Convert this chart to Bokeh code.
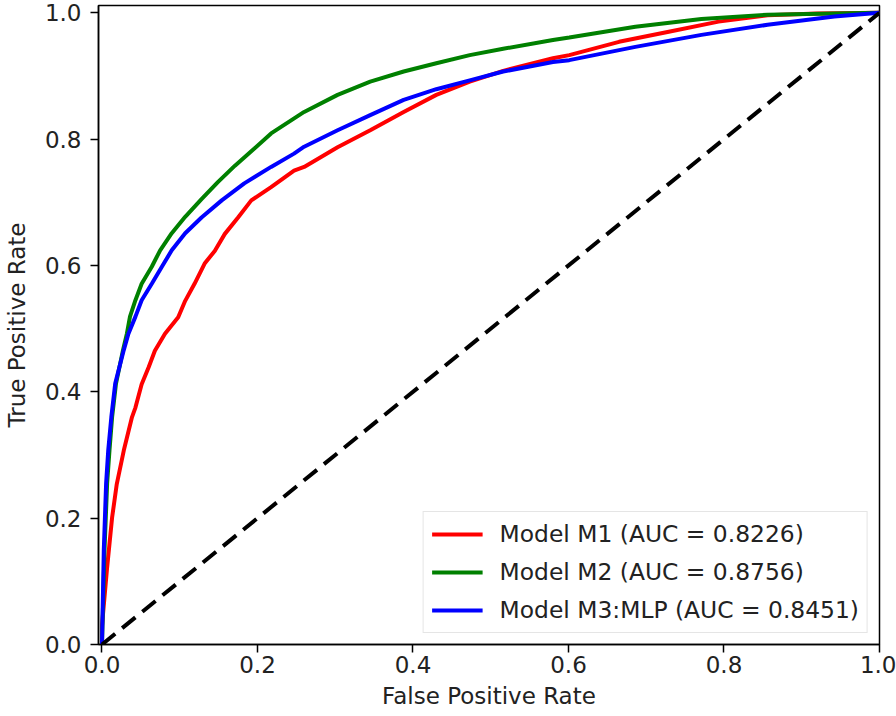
from bokeh.plotting import figure
from bokeh.models import Range1d, FixedTicker, NumeralTickFormatter, Legend, LegendItem
from bokeh.embed import file_html
from bokeh.resources import INLINE

# ---- data ----
fpr_m1 = [0.0, 0.0, 0.0066, 0.013, 0.019, 0.028, 0.0386, 0.043, 0.051, 0.060, 0.068, 0.081, 0.098, 0.107,
          0.119, 0.132, 0.145, 0.158, 0.175, 0.192, 0.2175, 0.247, 0.260, 0.303, 0.345, 0.388, 0.430,
          0.473, 0.516, 0.580, 0.601, 0.665, 0.729, 0.793, 0.856, 0.920, 1.0]
tpr_m1 = [0.0, 0.03, 0.122, 0.201, 0.254, 0.307, 0.360, 0.375, 0.412, 0.439, 0.465, 0.492, 0.518, 0.544,
          0.571, 0.603, 0.623, 0.650, 0.676, 0.703, 0.724, 0.750, 0.756, 0.787, 0.814, 0.843, 0.870,
          0.891, 0.908, 0.928, 0.933, 0.954, 0.970, 0.986, 0.996, 0.999, 1.0]

fpr_m2 = [0.0, 0.0032, 0.0066, 0.0096, 0.013, 0.018, 0.027, 0.032, 0.036, 0.043, 0.051, 0.064, 0.0748,
          0.0897, 0.107, 0.128, 0.149, 0.171, 0.196, 0.2175, 0.260, 0.303, 0.345, 0.388, 0.430, 0.473,
          0.516, 0.580, 0.601, 0.686, 0.771, 0.856, 0.942, 1.0]
tpr_m2 = [0.0, 0.149, 0.255, 0.307, 0.360, 0.413, 0.466, 0.492, 0.519, 0.545, 0.571, 0.598, 0.624,
          0.651, 0.677, 0.705, 0.732, 0.758, 0.785, 0.809, 0.843, 0.870, 0.891, 0.907, 0.920, 0.933,
          0.943, 0.957, 0.961, 0.978, 0.990, 0.997, 0.999, 1.0]

fpr_m3 = [0.0, 0.0023, 0.0053, 0.008, 0.012, 0.017, 0.028, 0.034, 0.043, 0.051, 0.064, 0.077, 0.0897,
          0.107, 0.128, 0.154, 0.183, 0.2175, 0.247, 0.260, 0.303, 0.345, 0.388, 0.430, 0.473, 0.516,
          0.580, 0.601, 0.686, 0.771, 0.856, 0.942, 1.0]
tpr_m3 = [0.0, 0.149, 0.255, 0.307, 0.360, 0.413, 0.466, 0.492, 0.519, 0.545, 0.571, 0.598, 0.624,
          0.651, 0.676, 0.703, 0.730, 0.756, 0.777, 0.788, 0.814, 0.838, 0.862, 0.879, 0.893, 0.907,
          0.922, 0.925, 0.946, 0.965, 0.981, 0.994, 1.0]

diag_x = [0.0, 1.0]
diag_y = [0.0, 1.0]

labels = ["Model M1 (AUC = 0.8226)", "Model M2 (AUC = 0.8756)", "Model M3:MLP (AUC = 0.8451)"]
colors = ["red", "green", "blue"]
tick_values = [0.0, 0.2, 0.4, 0.6, 0.8, 1.0]

FONT = "DejaVu Sans"
FS = "23px"

p = figure(width=896, height=716, output_backend="svg", toolbar_location=None,
           x_range=Range1d(-0.0045, 1.0), y_range=Range1d(0.0, 1.0115),
           min_border_left=93, min_border_right=17, min_border_top=5, min_border_bottom=72)
p.xgrid.visible = False
p.ygrid.visible = False
p.outline_line_color = "black"
p.outline_line_width = 1.5
p.background_fill_color = "white"
p.border_fill_color = "white"

r1 = p.line(fpr_m1, tpr_m1, line_color=colors[0], line_width=4)
r2 = p.line(fpr_m2, tpr_m2, line_color=colors[1], line_width=4)
r3 = p.line(fpr_m3, tpr_m3, line_color=colors[2], line_width=4)
p.line(diag_x, diag_y, line_color="black", line_width=4, line_dash="17 9")

for ax in (p.xaxis[0], p.yaxis[0]):
    ax.ticker = FixedTicker(ticks=tick_values)
    ax.formatter = NumeralTickFormatter(format="0.0")
    ax.minor_tick_line_color = None
    ax.major_tick_in = 0
    ax.major_tick_out = 8
    ax.major_tick_line_width = 1.5
    ax.major_tick_line_color = "black"
    ax.axis_line_color = "black"
    ax.axis_line_width = 1.5
    ax.major_label_text_font = FONT
    ax.major_label_text_font_size = FS
    ax.major_label_text_color = "#222222"
    ax.axis_label_text_font = FONT
    ax.axis_label_text_font_size = FS
    ax.axis_label_text_font_style = "normal"
    ax.axis_label_text_color = "#222222"

p.xaxis.axis_label = "False Positive Rate"
p.yaxis.axis_label = "True Positive Rate"
p.xaxis.major_label_standoff = 3
p.xaxis.axis_label_standoff = 7
p.yaxis.major_label_standoff = 9
p.yaxis.axis_label_standoff = 12

legend = Legend(items=[LegendItem(label=labels[0], renderers=[r1]),
                       LegendItem(label=labels[1], renderers=[r2]),
                       LegendItem(label=labels[2], renderers=[r3])],
                location="bottom_right")
legend.label_text_font = FONT
legend.label_text_font_size = "23.4px"
legend.label_text_color = "#222222"
legend.glyph_width = 51
legend.label_standoff = 17
legend.padding = 8
legend.spacing = 10
legend.margin = 11
legend.border_line_color = "#cccccc"
legend.border_line_width = 1.5
legend.background_fill_alpha = 0.8
p.add_layout(legend)

open("out.html", "w").write(file_html(p, INLINE))
